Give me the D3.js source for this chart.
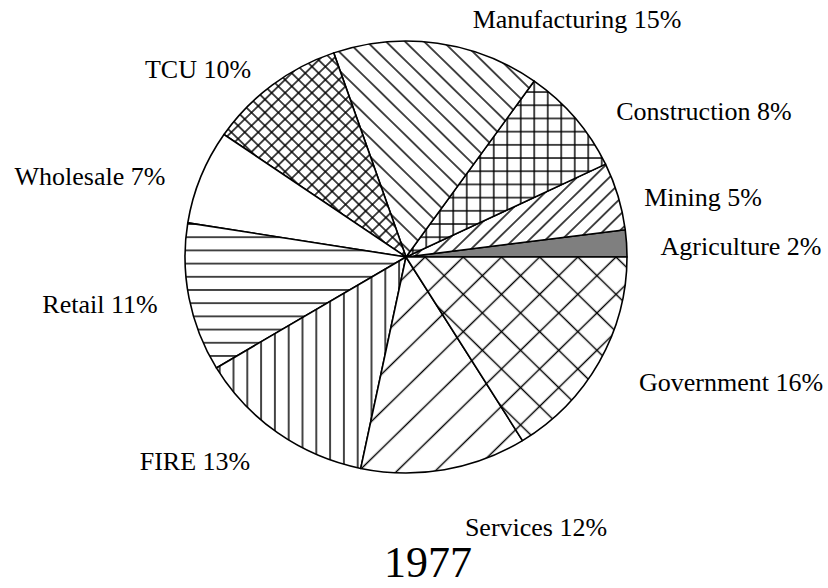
<!DOCTYPE html>
<html><head><meta charset="utf-8">
<script src="https://cdn.jsdelivr.net/npm/d3@7"></script>
<style>
body{margin:0;background:#fff}
text{font-family:"Liberation Serif","Times New Roman",serif;fill:#000}
</style>
</head><body>
<svg id="chart" width="828" height="588"></svg>
<script>
// ---- data ----
const categories = ["Agriculture","Mining","Construction","Manufacturing","TCU","Wholesale","Retail","FIRE","Services","Government"];
const shares = [2,5,8,15,10,7,11,13,12,16];
const chartTitle = "1977";

// ---- layout / style (not data) ----
const labelPos = [[741,255],[703,206],[704,120],[577,28],[198,78],[90,185],[100,313],[195,470],[536,536],[731,391]];
// hatch spec per slice: line angles (deg, 0 = vertical) and spacing
const hatch = [
  {solid:"#7f7f7f"},
  {angles:[45], s:11.5},
  {angles:[0,90], s:13.5},
  {angles:[-45], s:13.5},
  {angles:[45,-45], s:9.5},
  {solid:"#fff"},
  {angles:[90], s:13.5},
  {angles:[0], s:13.8},
  {angles:[45], s:27},
  {angles:[45,-45], s:27}
];

const svg = d3.select("#chart");
const cx = 406, cy = 257, rx = 221, ry = 216;

const defs = svg.append("defs");
hatch.forEach((h,i)=>{
  if(h.solid) return;
  h.angles.forEach((a,j)=>{
    const p = defs.append("pattern")
      .attr("id",`p${i}_${j}`)
      .attr("patternUnits","userSpaceOnUse")
      .attr("width",h.s).attr("height",h.s)
      .attr("patternTransform",`rotate(${a})`);
    p.append("line").attr("x1",h.s/2).attr("x2",h.s/2).attr("y1",-1).attr("y2",h.s+1)
      .attr("stroke","#000").attr("stroke-width",1.45);
  });
});

const pie = d3.pie().sort(null).value(d=>d)
  .startAngle(Math.PI/2).endAngle(Math.PI/2 - 2*Math.PI);
const arcs = pie(shares);
const arc = d3.arc().innerRadius(0).outerRadius(rx);

const g = svg.append("g").attr("transform",`translate(${cx},${cy}) scale(1,${ry/rx})`);

const slices = g.selectAll("g.slice").data(arcs).enter().append("g").attr("class","slice");
slices.append("path").attr("d",arc)
  .attr("fill",(d,i)=>hatch[i].solid ? hatch[i].solid : "#fff");
slices.each(function(d,i){
  const h = hatch[i];
  if(h.solid) return;
  h.angles.forEach((a,j)=>{
    d3.select(this).append("path").attr("d",arc(d)).attr("fill",`url(#p${i}_${j})`);
  });
});
slices.append("path").attr("d",arc)
  .attr("fill","none").attr("stroke","#000").attr("stroke-width",1.6)
  .attr("stroke-linejoin","round");

// labels
svg.selectAll("text.lbl").data(categories).enter().append("text")
  .attr("class","lbl")
  .attr("x",(d,i)=>labelPos[i][0]).attr("y",(d,i)=>labelPos[i][1])
  .attr("text-anchor","middle")
  .attr("font-size",26)
  .text((d,i)=>`${d} ${shares[i]}%`);

svg.append("text").attr("x",428).attr("y",577).attr("text-anchor","middle")
  .attr("font-size",44).text(chartTitle);
</script>
</body></html>
